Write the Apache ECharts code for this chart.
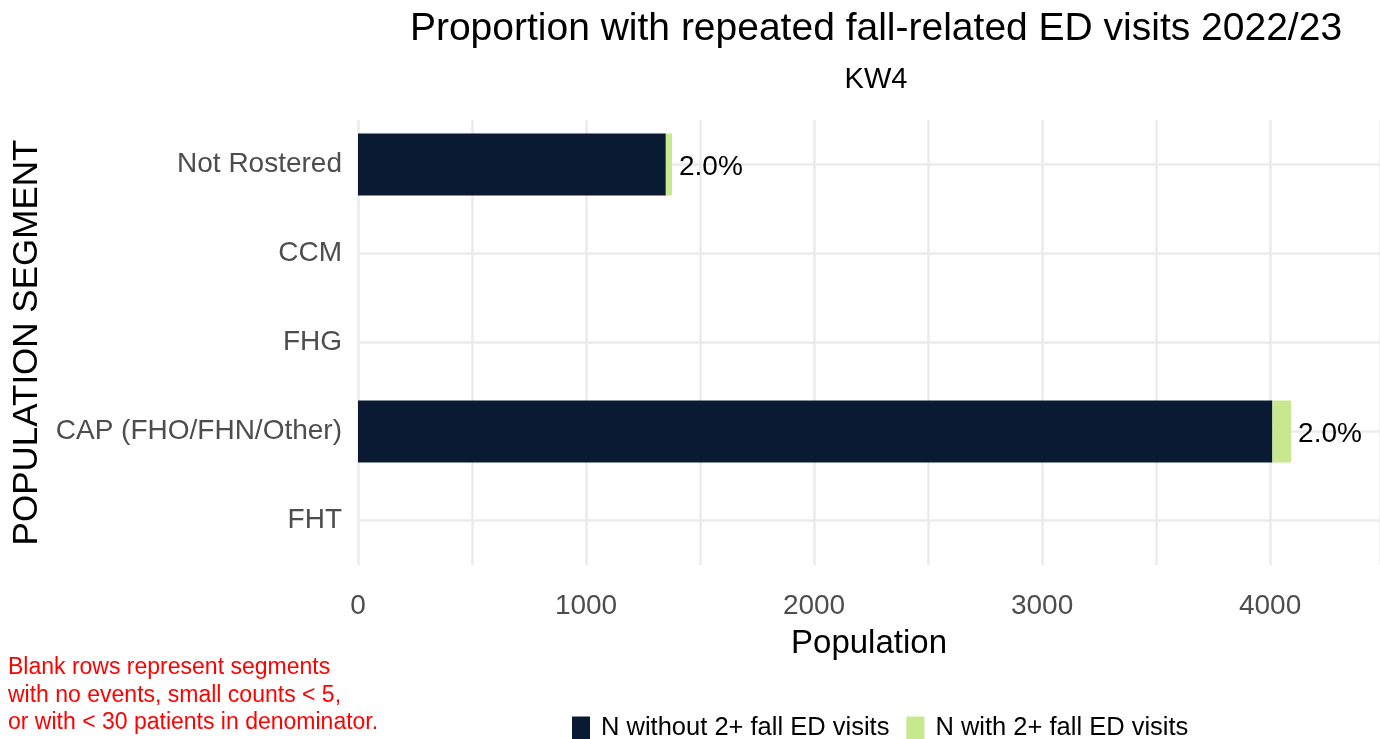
<!DOCTYPE html>
<html><head><meta charset="utf-8">
<script src="https://cdn.jsdelivr.net/npm/echarts@6/dist/echarts.min.js"></script>
<style>html,body{margin:0;padding:0;background:#fff}#c{width:1380px;height:739px}</style>
</head><body><div id="c"></div>
<script>
const categories = ['Not Rostered', 'CCM', 'FHG', 'CAP (FHO/FHN/Other)', 'FHT'];
const nWithout = [1350, null, null, 4010, null];
const nWith = [27, null, null, 82, null];
const pctLabels = ['2.0%', '', '', '2.0%', ''];
const xTicks = [0, 1000, 2000, 3000, 4000];

const font = 'Liberation Sans, Arial, sans-serif';
const chart = echarts.init(document.getElementById('c'));
chart.setOption({
  animation: false,
  title: [
    {text: 'Proportion with repeated fall-related ED visits 2022/23', left: 871, top: 5, textAlign: 'center',
     textStyle: {fontFamily: font, fontSize: 39, fontWeight: 'normal', color: '#000'}},
    {text: 'KW4', left: 871, top: 60, textAlign: 'center',
     textStyle: {fontFamily: font, fontSize: 29, fontWeight: 'normal', color: '#000'}}
  ],
  grid: {left: 358, right: 0, top: 120, bottom: 174, containLabel: false, outerBoundsMode: 'none'},
  legend: {
    bottom: -7, left: 567, itemWidth: 18, itemHeight: 23, itemGap: 17,
    icon: 'rect',
    textStyle: {fontFamily: font, fontSize: 25.5, color: '#000', padding: [0, 0, 0, 6]},
    data: ['N without 2+ fall ED visits', 'N with 2+ fall ED visits']
  },
  xAxis: {
    type: 'value', min: 0, max: 4482, interval: 1000,
    name: 'Population', nameLocation: 'middle', nameGap: 62,
    nameTextStyle: {fontFamily: font, fontSize: 33, color: '#000'},
    axisLine: {show: false}, axisTick: {show: false},
    axisLabel: {fontFamily: font, fontSize: 28, color: '#4d4d4d', margin: 27,
      formatter: v => xTicks.includes(v) ? String(v) : ''},
    splitLine: {show: true, lineStyle: {color: '#ebebeb', width: 2.5}},
    minorTick: {show: false, splitNumber: 2},
    minorSplitLine: {show: true, lineStyle: {color: '#ebebeb', width: 2.5}}
  },
  yAxis: {
    type: 'category', data: categories, inverse: true,
    name: 'POPULATION SEGMENT', nameLocation: 'middle', nameGap: 309, nameRotate: 90,
    nameTextStyle: {fontFamily: font, fontSize: 35, color: '#000'},
    axisLine: {show: false}, axisTick: {show: false, alignWithLabel: true},
    axisLabel: {fontFamily: font, fontSize: 28, color: '#4d4d4d', margin: 16, padding: [6, 0, 0, 0]},
    splitLine: {show: true, alignWithLabel: true, lineStyle: {color: '#ebebeb', width: 2.5}}
  },
  series: [
    {name: 'N without 2+ fall ED visits', type: 'bar', stack: 's', data: nWithout,
     barWidth: 62, itemStyle: {color: '#0b1a33'}},
    {name: 'N with 2+ fall ED visits', type: 'bar', stack: 's', data: nWith,
     barWidth: 62, itemStyle: {color: '#c8e890'},
     label: {show: true, position: 'right', distance: 7, offset: [0, 3], fontFamily: font, fontSize: 28, color: '#000',
       formatter: p => pctLabels[p.dataIndex]}}
  ],
  graphic: [
    {type: 'text', left: 8, top: 654, style: {
      text: 'Blank rows represent segments\nwith no events, small counts < 5,\nor with < 30 patients in denominator.',
      fill: '#ff0000', fontFamily: font, fontSize: 23, lineHeight: 27.5}}
  ]
});
</script></body></html>
